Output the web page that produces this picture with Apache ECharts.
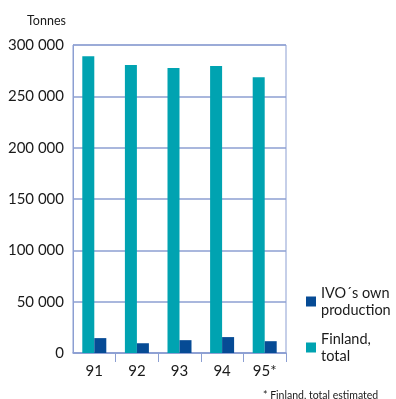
<!DOCTYPE html>
<html>
<head>
<meta charset="utf-8">
<script src="https://cdn.jsdelivr.net/npm/echarts@6/dist/echarts.min.js"></script>
<style>
  html, body { margin: 0; padding: 0; background: #fff; }
  #chart { width: 396px; height: 399px; }
</style>
</head>
<body>
<div id="chart"></div>
<script>
const years = ['91', '92', '93', '94', '95*']
const finlandTotal = [289000, 280500, 277500, 279500, 268500]
const ivoOwn = [14500, 9500, 12500, 15500, 11500]
const yTicks = [0, 50000, 100000, 150000, 200000, 250000, 300000]

const lineColor = '#8c9fd2'
const fontFamily = 'Lato, "DejaVu Sans", sans-serif'

const chart = echarts.init(document.getElementById('chart'))

// one legend per entry so each icon sits beside the first text line
const legendBase = {
  orient: 'vertical',
  left: 306,
  padding: 0,
  itemWidth: 10,
  itemHeight: 10,
  icon: 'rect',
  formatter: function (name) {
    return name === 'Finland, total' ? 'Finland,\ntotal' : 'IVO´s own\nproduction'
  },
  textStyle: { fontSize: 14.5, lineHeight: 17, padding: [17, 0, 0, 0], color: '#1a1a1a', fontFamily: fontFamily }
}

const option = {
  backgroundColor: '#fff',
  animation: false,
  textStyle: { fontFamily: fontFamily, color: '#1a1a1a' },
  title: [
    {
      text: 'Tonnes',
      left: 22,
      top: 9,
      textStyle: { fontSize: 12.5, fontWeight: 'normal', color: '#1a1a1a', fontFamily: fontFamily }
    },
    {
      text: '* Finland, total estimated',
      left: 258,
      top: 385,
      textStyle: { fontSize: 10.5, fontWeight: 'normal', color: '#1a1a1a', fontFamily: fontFamily }
    }
  ],
  legend: [
    Object.assign({}, legendBase, { top: 276, data: ['IVO´s own production'] }),
    Object.assign({}, legendBase, { top: 322, data: ['Finland, total'] })
  ],
  grid: {
    left: 73,
    right: 110,
    top: 45,
    bottom: 46,
    show: true,
    borderColor: lineColor,
    borderWidth: 1
  },
  xAxis: {
    type: 'category',
    data: years,
    axisLine: { lineStyle: { color: lineColor, width: 1.5 } },
    axisTick: {
      show: true,
      length: 9,
      interval: function (i) { return i > 0 },
      lineStyle: { color: lineColor }
    },
    axisLabel: { fontSize: 15, color: '#1a1a1a', margin: 11 }
  },
  yAxis: {
    type: 'value',
    min: 0,
    max: 300000,
    interval: 50000,
    axisLine: { show: true, lineStyle: { color: lineColor } },
    axisTick: { show: false },
    splitLine: { lineStyle: { color: lineColor, width: 1.5 } },
    axisLabel: {
      fontSize: 15,
      color: '#1a1a1a',
      margin: 9,
      formatter: function (v) {
        return yTicks.indexOf(v) >= 0 ? String(v).replace(/\B(?=(\d{3})+(?!\d))/g, ' ') : ''
      }
    }
  },
  series: [
    {
      name: 'Finland, total',
      type: 'bar',
      data: finlandTotal,
      barWidth: 12,
      barGap: '0%',
      itemStyle: { color: '#00a3b1' }
    },
    {
      name: 'IVO´s own production',
      type: 'bar',
      data: ivoOwn,
      barWidth: 12,
      itemStyle: { color: '#064b95' }
    }
  ]
}

chart.setOption(option)
</script>
</body>
</html>
